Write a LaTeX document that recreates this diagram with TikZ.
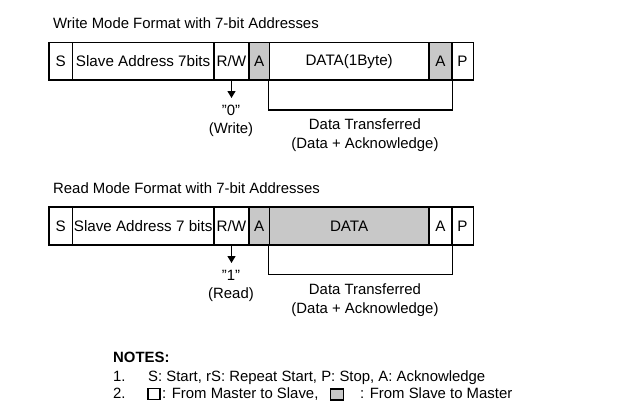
\documentclass[tikz,border=0pt]{standalone}
\usepackage{fontspec}
\setmainfont{Liberation Sans}
\usetikzlibrary{arrows.meta}
\definecolor{cellgray}{RGB}{200,200,200}
\tikzset{
  txt/.style={font=\fontsize{14.9}{17}\selectfont, inner sep=0pt},
  cell/.style={draw=black, line width=1.6pt, minimum height=37.7pt, inner sep=0pt, font=\fontsize{15.2}{17}\selectfont},
  dev/.style={cell, fill=cellgray},
  conn/.style={line width=1.6pt},
  arr/.style={line width=1.3pt, -{Triangle[width=8pt,length=7pt]}},
  lbl/.style={font=\fontsize{14.9}{19}\selectfont, inner sep=0pt, align=center},
  keybox/.style={draw=black, line width=1.4pt, minimum width=12pt, minimum height=11pt, inner sep=0pt}
}
\begin{document}
\begin{tikzpicture}[x=1pt,y=-1pt]
\useasboundingbox (0,0) rectangle (627,410);
% ---------- Write mode ----------
\node[txt, anchor=base west] (wtitle) at (53,28) {Write Mode Format with 7-bit Addresses};
\node[cell, minimum width=23.3pt] (ws) at (60.65,61.2) {S};
\node[cell, minimum width=141.7pt] (wadr) at (143.15,61.2) {Slave Address 7bits};
\node[cell, minimum width=35pt] (wrw) at (231.5,61.2) {R/W};
\node[dev, minimum width=20.3pt] (wa1) at (259.15,61.2) {A};
\node[cell, minimum width=159.7pt] (wdata) at (349.15,61.2) {DATA(1Byte)};
\node[dev, minimum width=22.7pt] (wa2) at (440.35,61.2) {A};
\node[cell, minimum width=21.6pt] (wp) at (462.5,61.2) {P};
\coordinate (wtip) at (231.5,98);
\draw[arr] (wrw.south) -- (wtip);
\draw[conn] (wdata.south west) -- ++(0,29) -| (wa2.south east);
\node[lbl] (w0) at (231,110) {{\char34}0{\char34}};
\node[lbl] (wwr) at (231,129.5) {(Write)};
\node[lbl] (wdt) at (365,135.5) {Data Transferred\\(Data + Acknowledge)};
% ---------- Read mode ----------
\node[txt, anchor=base west] (rtitle) at (53,193) {Read Mode Format with 7-bit Addresses};
\node[cell, minimum width=23.3pt] (rs) at (60.65,226) {S};
\node[cell, minimum width=141.7pt] (radr) at (143.15,226) {Slave Address 7 bits};
\node[cell, minimum width=35pt] (rrw) at (231.5,226) {R/W};
\node[dev, minimum width=20.3pt] (ra1) at (259.15,226) {A};
\node[dev, minimum width=159.7pt] (rdata) at (349.15,226) {DATA};
\node[cell, minimum width=22.7pt] (ra2) at (440.35,226) {A};
\node[cell, minimum width=21.6pt] (rp) at (462.5,226) {P};
\coordinate (rtip) at (231.5,263);
\draw[arr] (rrw.south) -- (rtip);
\draw[conn] (rdata.south west) -- ++(0,29) -| (ra2.south east);
\node[lbl] (r1) at (231,275) {{\char34}1{\char34}};
\node[lbl] (rrd) at (231,294.5) {(Read)};
\node[lbl] (rdt) at (365,300) {Data Transferred\\(Data + Acknowledge)};
% ---------- Notes ----------
\node[txt, anchor=base west, font=\bfseries\fontsize{14.9}{17}\selectfont] (notes) at (113,362) {NOTES:};
\node[txt, anchor=base west] (n1) at (113,381) {1.};
\node[txt, anchor=base west] (n1t) at (148,381) {S: Start, rS: Repeat Start, P: Stop, A: Acknowledge};
\node[txt, anchor=base west] (n2) at (113,398) {2.};
\node[keybox] (kw) at (154,394) {};
\node[txt, anchor=base west] (n2a) at (162,398) {: From Master to Slave,};
\node[keybox, fill=cellgray, minimum width=13pt] (kg) at (337,394.5) {};
\node[txt, anchor=base west] (n2b) at (360,398) {: From Slave to Master};
\end{tikzpicture}
\end{document}
